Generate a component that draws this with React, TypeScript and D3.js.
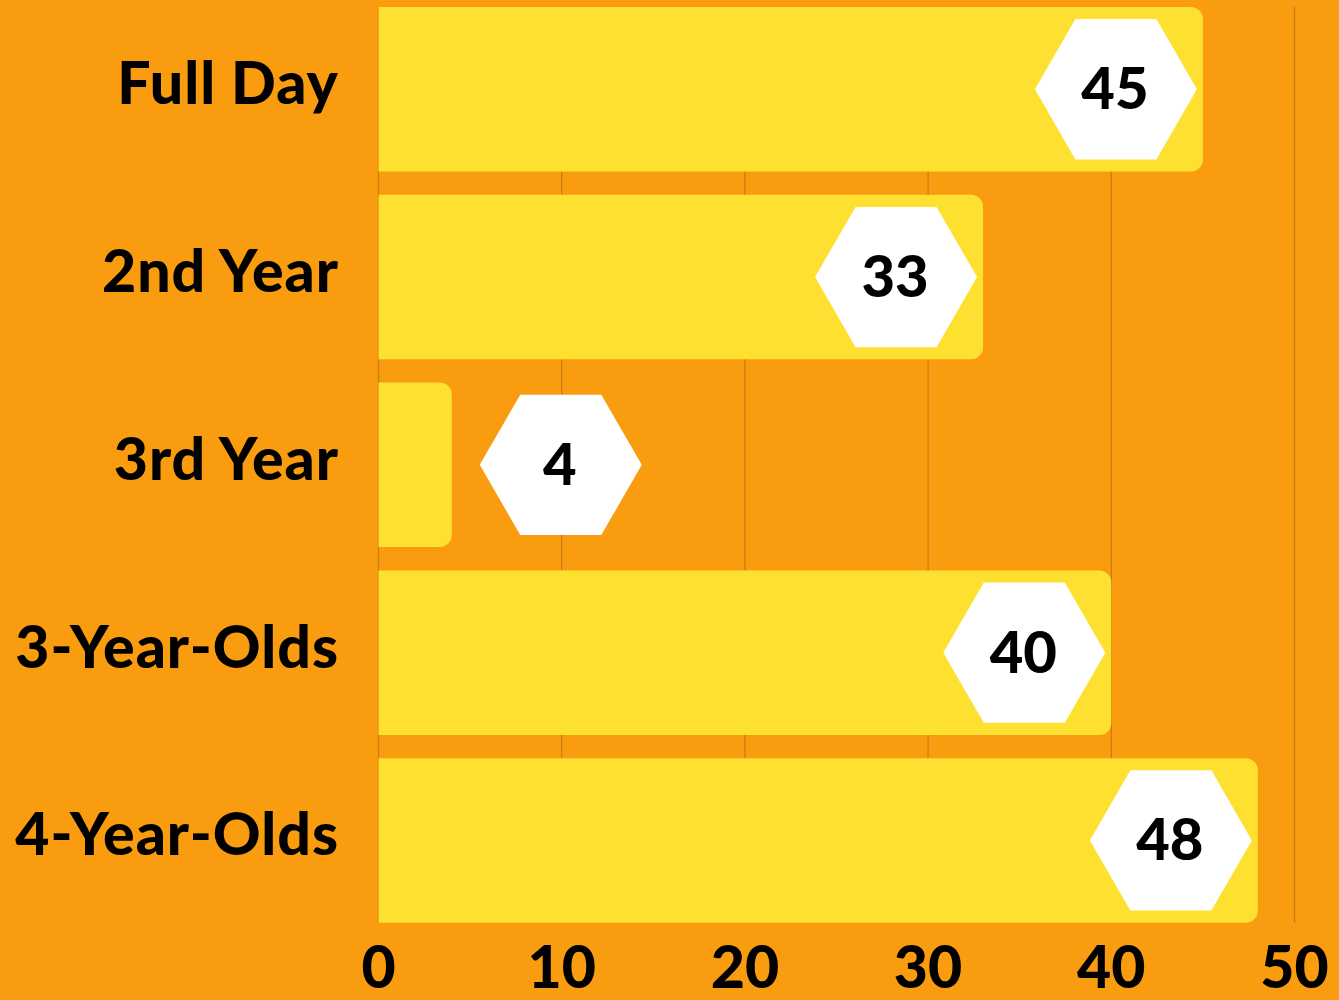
import React from "react";
import * as d3 from "d3";

const categories: string[] = ["Full Day", "2nd Year", "3rd Year", "3-Year-Olds", "4-Year-Olds"];
const values: number[] = [45, 33, 4, 40, 48];
const tickValues: number[] = [0, 10, 20, 30, 40, 50];

const W = 1339;
const H = 1000;
const BG = "#F99C0F";
const BAR = "#FDE030";
const GRID = "#C27E12";
const FONT = "Lato, 'Open Sans', Roboto, sans-serif";

export default function App() {
  const x = d3.scaleLinear().domain([0, 50]).range([378.5, 1294.5]);
  const y = d3
    .scaleBand<string>()
    .domain(categories)
    .range([7, 922.7])
    .paddingInner(0.124)
    .paddingOuter(0);
  const bh = y.bandwidth();
  const R = 81;
  const r = 12;

  const barPath = (v: number, cat: string) => {
    const x0 = x(0);
    const x1 = x(v);
    const y0 = y(cat)!;
    const y1 = y0 + bh;
    const p = d3.path();
    p.moveTo(x0, y0);
    p.lineTo(x1 - r, y0);
    p.arcTo(x1, y0, x1, y0 + r, r);
    p.lineTo(x1, y1 - r);
    p.arcTo(x1, y1, x1 - r, y1, r);
    p.lineTo(x0, y1);
    p.closePath();
    return p.toString();
  };

  const hexPath = (cx: number, cy: number) => {
    const pts = d3.range(6).map((i) => {
      const a = (Math.PI / 3) * i;
      return [cx + R * Math.cos(a), cy + R * Math.sin(a)] as [number, number];
    });
    return d3.line()(pts.concat([pts[0]]))! + "Z";
  };

  return (
    <svg
      width={W}
      height={H}
      style={{ position: "absolute", left: 0, top: 0, display: "block" }}
    >
      <rect x={0} y={0} width={W} height={H} fill={BG} />
      {tickValues.map((t) => (
        <line
          key={"g" + t}
          x1={x(t)}
          x2={x(t)}
          y1={7}
          y2={922.7}
          stroke={GRID}
          strokeWidth={1.2}
        />
      ))}
      {categories.map((c, i) => (
        <path key={"b" + c} d={barPath(values[i], c)} fill={BAR} />
      ))}
      {categories.map((c, i) => {
        const v = values[i];
        const end = x(v);
        const cy = y(c)! + bh / 2;
        const fits = end - x(0) > 2 * R + 12;
        const cx = fits ? end - 6 - R : end + 28 + R;
        return (
          <g key={"h" + c}>
            <path d={hexPath(cx, cy)} fill="#FFFFFF" />
            <text
              x={cx - 1}
              y={cy + 20}
              textAnchor="middle"
              fontFamily={FONT}
              fontWeight={900}
              fontSize={58}
              fill="#000"
            >
              {v}
            </text>
          </g>
        );
      })}
      {categories.map((c) => (
        <text
          key={"l" + c}
          x={339}
          y={y(c)! + bh / 2 + 15}
          textAnchor="end"
          fontFamily={FONT}
          fontWeight={900}
          fontSize={59}
          letterSpacing={1}
          fill="#000"
        >
          {c}
        </text>
      ))}
      {tickValues.map((t) => (
        <text
          key={"t" + t}
          x={x(t)}
          y={988}
          textAnchor="middle"
          fontFamily={FONT}
          fontWeight={900}
          fontSize={59}
          fill="#000"
        >
          {t}
        </text>
      ))}
    </svg>
  );
}
